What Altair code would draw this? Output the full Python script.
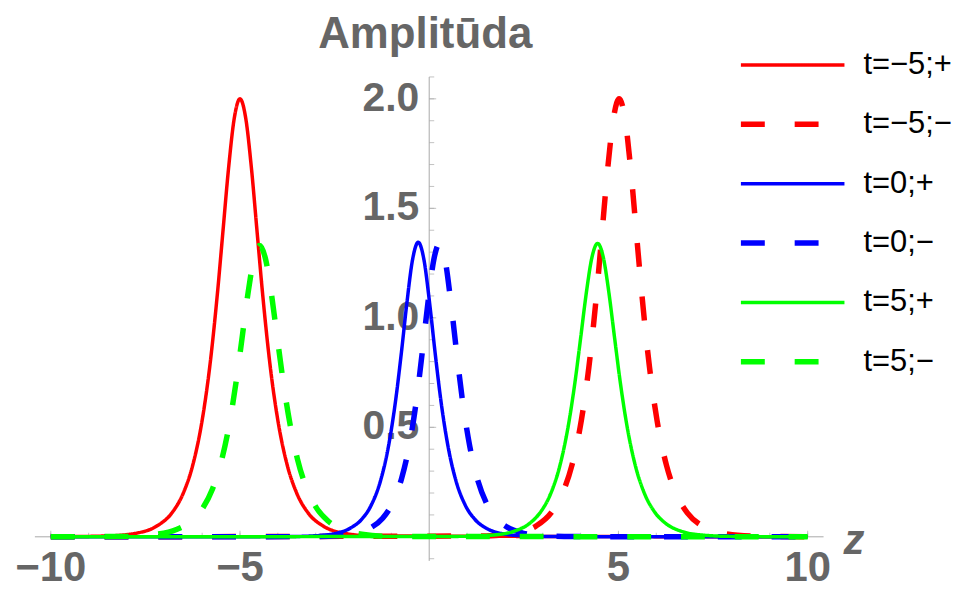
import altair as alt
import pandas as pd

# ---------------- data ----------------
series_names = ["t=−5;+", "t=−5;−", "t=0;+", "t=0;−", "t=5;+", "t=5;−"]
series_colors = ["#ff0000", "#ff0000", "#0000ff", "#0000ff", "#00ff00", "#00ff00"]
series_dash = [[1, 0], [24, 30], [1, 0], [24, 30], [1, 0], [24, 30]]
series_width = [3.5, 5.5, 3.5, 5.5, 3.5, 5.5]

z_red_plus = [-10, -8.5, -7.7, -7.2, -6.8, -6.5, -6.25, -6.0, -5.8, -5.6, -5.45, -5.3, -5.15,
              -5.0, -4.85, -4.7, -4.55, -4.4, -4.2, -4.0, -3.75, -3.5, -3.2, -2.8, -2.3, -1.5, 10]
a_red_plus = [0, 0.004, 0.018, 0.049, 0.109, 0.199, 0.326, 0.532, 0.776, 1.105, 1.396, 1.687, 1.913,
              2.0, 1.913, 1.687, 1.396, 1.105, 0.776, 0.532, 0.326, 0.199, 0.109, 0.049, 0.018, 0.004, 0]

z_red_minus = [-10, 1.52, 2.32, 2.82, 3.22, 3.52, 3.77, 4.02, 4.22, 4.42, 4.57, 4.72, 4.87,
               5.02, 5.17, 5.32, 5.47, 5.62, 5.82, 6.02, 6.27, 6.52, 6.82, 7.22, 7.72, 8.52, 10]
a_red_minus = [0, 0.004, 0.018, 0.049, 0.109, 0.199, 0.326, 0.532, 0.776, 1.105, 1.396, 1.687, 1.913,
               2.0, 1.913, 1.687, 1.396, 1.105, 0.776, 0.532, 0.326, 0.199, 0.109, 0.049, 0.018, 0.004, 0]

z_blue_plus = [-10, -3.79, -2.99, -2.49, -2.09, -1.79, -1.54, -1.29, -1.09, -0.89, -0.74, -0.59, -0.44,
               -0.29, -0.14, 0.01, 0.16, 0.31, 0.51, 0.71, 0.96, 1.21, 1.51, 1.91, 2.41, 3.21, 10]
a_blue_plus = [0, 0.001, 0.005, 0.015, 0.039, 0.079, 0.142, 0.254, 0.401, 0.620, 0.834, 1.068, 1.266,
               1.345, 1.266, 1.068, 0.834, 0.620, 0.401, 0.254, 0.142, 0.079, 0.039, 0.015, 0.005, 0.001, 0]

z_blue_minus = [-10, -3.23, -2.43, -1.93, -1.53, -1.23, -0.98, -0.73, -0.53, -0.33, -0.18, -0.03, 0.12,
                0.27, 0.42, 0.57, 0.72, 0.87, 1.07, 1.27, 1.52, 1.77, 2.07, 2.47, 2.97, 3.77, 10]
a_blue_minus = [0, 0.001, 0.005, 0.017, 0.043, 0.085, 0.151, 0.266, 0.415, 0.634, 0.848, 1.074, 1.264,
                1.34, 1.264, 1.074, 0.848, 0.634, 0.415, 0.266, 0.151, 0.085, 0.043, 0.017, 0.005, 0.001, 0]

z_green_plus = [-10, 0.95, 1.75, 2.25, 2.65, 2.95, 3.2, 3.45, 3.65, 3.85, 4.0, 4.15, 4.3,
                4.45, 4.6, 4.75, 4.9, 5.05, 5.25, 5.45, 5.7, 5.95, 6.25, 6.65, 7.15, 7.95, 10]
a_green_plus = [0, 0.002, 0.009, 0.026, 0.061, 0.115, 0.193, 0.323, 0.483, 0.704, 0.906, 1.112, 1.276,
                1.34, 1.276, 1.112, 0.906, 0.704, 0.483, 0.323, 0.193, 0.115, 0.061, 0.026, 0.009, 0.002, 0]

z_green_minus = [-10, -7.98, -7.18, -6.68, -6.28, -5.98, -5.73, -5.48, -5.28, -5.08, -4.93, -4.78, -4.63,
                 -4.48, -4.33, -4.18, -4.03, -3.88, -3.68, -3.48, -3.23, -2.98, -2.68, -2.28, -1.78, -0.98, 10]
a_green_minus = [0, 0.002, 0.012, 0.033, 0.073, 0.132, 0.217, 0.354, 0.516, 0.735, 0.928, 1.122, 1.272,
                 1.33, 1.272, 1.122, 0.928, 0.735, 0.516, 0.354, 0.217, 0.132, 0.073, 0.033, 0.012, 0.002, 0]

x_minor_ticks = [-10, -9, -8, -7, -6, -5, -4, -3, -2, -1, 1, 2, 3, 4, 5, 6, 7, 8, 9, 10]
x_major_ticks = [-10, -5, 5, 10]
x_tick_labels = ["−10", "−5", "5", "10"]
y_minor_ticks = [-0.1, 0.1, 0.2, 0.3, 0.4, 0.5, 0.6, 0.7, 0.8, 0.9, 1.0, 1.1, 1.2, 1.3, 1.4,
                 1.5, 1.6, 1.7, 1.8, 1.9, 2.0, 2.1]
y_major_ticks = [0.5, 1.0, 1.5, 2.0]
y_tick_labels = ["0.5", "1.0", "1.5", "2.0"]

title_text = "Amplitūda"
x_axis_name = "z"

# ---------------- layout / style ----------------
X_DOMAIN = [-10.42, 10.42]
Y_DOMAIN = [-0.11, 2.1]
W, H = 792, 486
AXIS_GRAY = "#a8a8a8"
LABEL_GRAY = "#666666"
FONT = "Liberation Sans"

xs = alt.Scale(domain=X_DOMAIN, nice=False, zero=False)
ys = alt.Scale(domain=Y_DOMAIN, nice=False, zero=False)

zs = [z_red_plus, z_red_minus, z_blue_plus, z_blue_minus, z_green_plus, z_green_minus]
amps = [a_red_plus, a_red_minus, a_blue_plus, a_blue_minus, a_green_plus, a_green_minus]
frames = []
for i, (name, z, a) in enumerate(zip(series_names, zs, amps)):
    frames.append(pd.DataFrame({"z": z, "amp": a, "series": name, "ord": i}))
curves = pd.concat(frames, ignore_index=True)

anchor = pd.DataFrame({"x0": [0.0], "y0": [0.0]})

x_axis = alt.Chart(anchor).mark_rule(color=AXIS_GRAY, strokeWidth=1).encode(
    x=alt.value(0), x2=alt.value(W), y=alt.Y("y0:Q", scale=ys, axis=None))
y_axis = alt.Chart(anchor).mark_rule(color=AXIS_GRAY, strokeWidth=1).encode(
    x=alt.X("x0:Q", scale=xs, axis=None), y=alt.value(0), y2=alt.value(H))

xt_minor = pd.DataFrame({"t": x_minor_ticks, "y0": 0.0})
xt_major = pd.DataFrame({"t": x_major_ticks, "y0": 0.0, "lab": x_tick_labels})
yt_minor = pd.DataFrame({"t": y_minor_ticks, "x0": 0.0})
yt_major = pd.DataFrame({"t": y_major_ticks, "x0": 0.0, "lab": y_tick_labels})

x_minor = alt.Chart(xt_minor).mark_tick(orient="vertical", size=4, thickness=1, color=AXIS_GRAY,
                                        yOffset=-2).encode(
    x=alt.X("t:Q", scale=xs, axis=None), y=alt.Y("y0:Q", scale=ys, axis=None))
x_major = alt.Chart(xt_major).mark_tick(orient="vertical", size=6, thickness=1, color=AXIS_GRAY,
                                        yOffset=-3).encode(
    x=alt.X("t:Q", scale=xs, axis=None), y=alt.Y("y0:Q", scale=ys, axis=None))
y_minor = alt.Chart(yt_minor).mark_tick(orient="horizontal", size=5, thickness=1, color=AXIS_GRAY,
                                        xOffset=2.5).encode(
    x=alt.X("x0:Q", scale=xs, axis=None), y=alt.Y("t:Q", scale=ys, axis=None))
y_major = alt.Chart(yt_major).mark_tick(orient="horizontal", size=7, thickness=1, color=AXIS_GRAY,
                                        xOffset=3.5).encode(
    x=alt.X("x0:Q", scale=xs, axis=None), y=alt.Y("t:Q", scale=ys, axis=None))

x_labels = alt.Chart(xt_major).mark_text(font=FONT, fontSize=42, fontWeight="bold", color=LABEL_GRAY,
                                         align="center", baseline="alphabetic", dy=44).encode(
    x=alt.X("t:Q", scale=xs, axis=None), y=alt.Y("y0:Q", scale=ys, axis=None), text="lab:N")
y_labels = alt.Chart(yt_major).mark_text(font=FONT, fontSize=41, fontWeight="bold", color=LABEL_GRAY,
                                         align="right", baseline="middle", dx=-10).encode(
    x=alt.X("x0:Q", scale=xs, axis=None), y=alt.Y("t:Q", scale=ys, axis=None), text="lab:N")

title_df = pd.DataFrame({"x0": [0.0], "ytop": [Y_DOMAIN[1]], "lab": [title_text]})
title = alt.Chart(title_df).mark_text(font=FONT, fontSize=44, fontWeight="bold", color=LABEL_GRAY,
                                      align="center", baseline="alphabetic", dy=-29, dx=-4).encode(
    x=alt.X("x0:Q", scale=xs, axis=None), y=alt.Y("ytop:Q", scale=ys, axis=None), text="lab:N")

zlab_df = pd.DataFrame({"xmax": [X_DOMAIN[1]], "y0": [0.0], "lab": [x_axis_name]})
zlab = alt.Chart(zlab_df).mark_text(font=FONT, fontSize=42, fontWeight="bold", fontStyle="italic",
                                    color=LABEL_GRAY, align="left", baseline="alphabetic",
                                    dx=20, dy=17).encode(
    x=alt.X("xmax:Q", scale=xs, axis=None), y=alt.Y("y0:Q", scale=ys, axis=None), text="lab:N")

legend = alt.Legend(title=None, orient="none", legendX=706, legendY=-27, symbolType="stroke",
                    symbolSize=10816, clipHeight=30, rowPadding=28.6, labelFont=FONT,
                    labelFontSize=31, labelColor="black", labelOffset=16, labelLimit=300)

lines = alt.Chart(curves).mark_line(interpolate="monotone", clip=True).encode(
    x=alt.X("z:Q", scale=xs, axis=None),
    y=alt.Y("amp:Q", scale=ys, axis=None),
    color=alt.Color("series:N", scale=alt.Scale(domain=series_names, range=series_colors), legend=legend),
    strokeDash=alt.StrokeDash("series:N", scale=alt.Scale(domain=series_names, range=series_dash),
                              legend=legend),
    strokeWidth=alt.StrokeWidth("series:N", scale=alt.Scale(type="ordinal", domain=series_names,
                                                            range=series_width), legend=legend),
    order="z:Q",
)

chart = alt.layer(x_axis, y_axis, x_minor, x_major, y_minor, y_major, x_labels, y_labels,
                  title, zlab, lines).properties(
    width=W, height=H,
    autosize=alt.AutoSizeParams(type="none"),
    padding={"left": 27, "top": 68, "right": 130, "bottom": 30},
).configure_view(stroke=None)

chart.save("out.html", embed_options={"renderer": "svg", "actions": False})
